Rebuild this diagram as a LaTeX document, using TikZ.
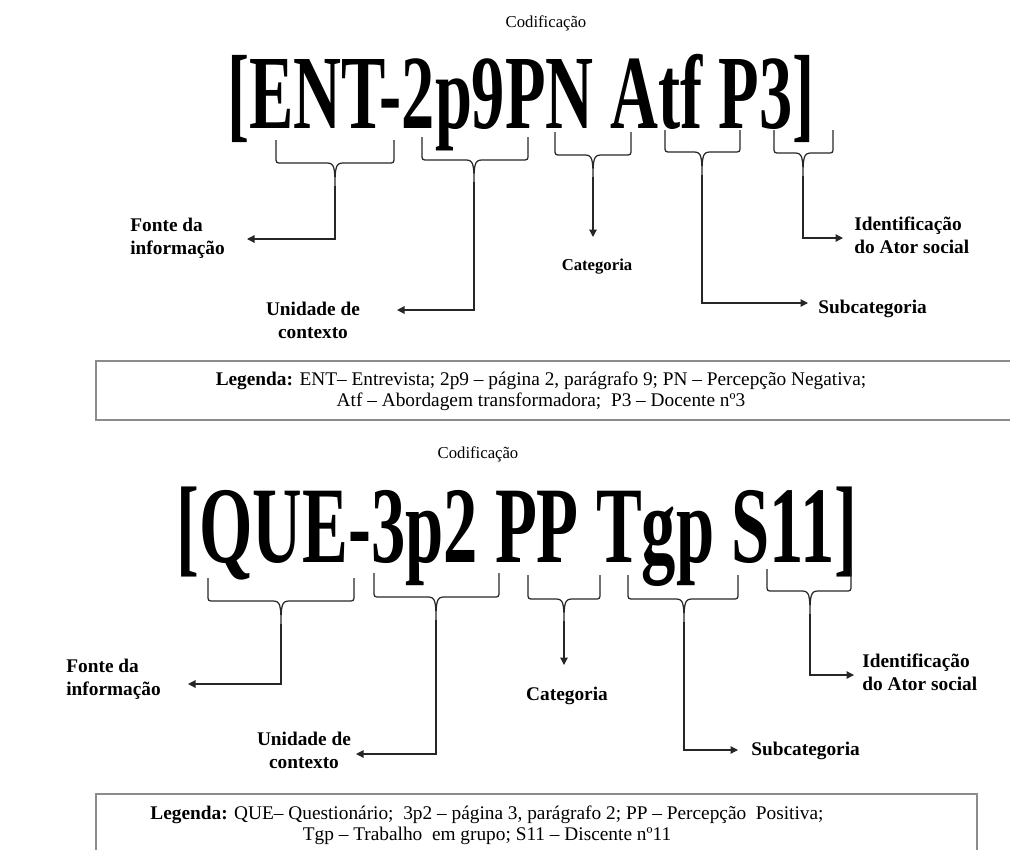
\documentclass[tikz,border=0pt]{standalone}
\usepackage{fontspec}
\usepackage{graphicx}
\setmainfont{Liberation Serif}
\usetikzlibrary{arrows.meta,positioning}

\begin{document}
\begin{tikzpicture}[x=0.02cm,y=-0.02cm,
  brace/.style={draw=black!85,line width=0.7pt},
  arr/.style={draw=black!85,line width=0.7pt,-{Triangle[length=1.5mm,width=1.5mm]}},
  lbl/.style={font=\fontsize{11}{13}\selectfont\bfseries,inner sep=0pt},
  small/.style={font=\fontsize{9.5}{11}\selectfont,inner sep=0pt},
  code/.style={inner sep=0pt,anchor=base},
  legbox/.style={draw=black!45,line width=0.9pt},
  legtext/.style={font=\fontsize{11}{11.5}\selectfont,align=center,inner sep=0pt,anchor=north}]
\useasboundingbox (0,0) rectangle (1010,849);
\def\cbrace#1#2#3#4#5#6#7{%
  \draw[brace] (#1,#4) -- (#1,{#5-6}) .. controls (#1,#5) .. ({#1+6},#5) -- ({#2-8},#5)
    .. controls ({#2-1},#5) and (#2,{#5+4}) .. (#2,#6)
    .. controls (#2,{#5+4}) and ({#2+1},#5) .. ({#2+8},#5) -- ({#3-6},#5)
    .. controls (#3,#5) .. (#3,{#5-6}) -- (#3,#4);
  \coordinate (#7) at (#2,#6);}

\node[small,anchor=base] (codA) at (546,27) {Codificação};
\node[code,font=\fontsize{60}{60}\selectfont\bfseries] (textA) at (521,128) {\scalebox{0.63}[1]{[ENT-2p9PN Atf P3]}};

\cbrace{276}{335}{394}{140}{163}{186}{tA1}
\cbrace{422}{474}{528}{137}{160}{182}{tA2}
\cbrace{555}{593}{631}{132}{155}{177}{tA3}
\cbrace{665}{702}{740}{130}{152}{175}{tA4}
\cbrace{774}{803}{833}{130}{153}{176}{tA5}

\node[lbl,align=left,anchor=north west] (fonteA) at (130,218) {Fonte da\\informação};
\node[lbl,align=center,anchor=north] (unidA) at (313,302) {Unidade de\\contexto};
\node[lbl,font=\fontsize{9.5}{11}\selectfont\bfseries,anchor=base] (catA) at (597,270) {Categoria};
\node[lbl,anchor=base west] (subA) at (818,313) {Subcategoria};
\node[lbl,align=left,anchor=north west] (identA) at (854,217) {Identificação\\do Ator social};

\coordinate (eA1) at (247,239);
\coordinate (eA2) at (397,310);
\coordinate (eA3) at (593,237);
\coordinate (eA4) at (808,303);
\coordinate (eA5) at (843,238);
\draw[arr] (tA1) |- (eA1);
\draw[arr] (tA2) |- (eA2);
\draw[arr] (tA3) -- (eA3);
\draw[arr] (tA4) |- (eA4);
\draw[arr] (tA5) |- (eA5);

\draw[legbox] (96,361) rectangle (1015,420);
\node[legtext] (legA) at (541,372) {\textbf{Legenda:} ENT– Entrevista; 2p9 – página 2, parágrafo 9; PN – Percepção Negativa;\\Atf – Abordagem transformadora;\ \ P3 – Docente nº3};

\node[small,anchor=base] (codB) at (478,458) {Codificação};
\node[code,font=\fontsize{62}{62}\selectfont\bfseries] (textB) at (517,562) {\scalebox{0.63}[1]{[QUE-3p2 PP Tgp S11]}};

\cbrace{208}{281}{354}{578}{601}{624}{tB1}
\cbrace{374}{436}{499}{573}{597}{620}{tB2}
\cbrace{528}{564}{600}{575}{599}{621}{tB3}
\cbrace{628}{684}{738}{575}{599}{622}{tB4}
\cbrace{767}{810}{851}{569}{591}{614}{tB5}

\node[lbl,align=left,anchor=north west] (fonteB) at (66,659) {Fonte da\\informação};
\node[lbl,align=center,anchor=north] (unidB) at (304,732) {Unidade de\\contexto};
\node[lbl,anchor=base] (catB) at (567,700) {Categoria};
\node[lbl,anchor=base west] (subB) at (751,755) {Subcategoria};
\node[lbl,align=left,anchor=north west] (identB) at (862,654) {Identificação\\do Ator social};

\coordinate (eB1) at (188,684);
\coordinate (eB2) at (356,754);
\coordinate (eB3) at (564,665);
\coordinate (eB4) at (738,750);
\coordinate (eB5) at (854,675);
\draw[arr] (tB1) |- (eB1);
\draw[arr] (tB2) |- (eB2);
\draw[arr] (tB3) -- (eB3);
\draw[arr] (tB4) |- (eB4);
\draw[arr] (tB5) |- (eB5);

\draw[legbox] (96,794) rectangle (977,870);
\node[legtext] (legB) at (487,806) {\textbf{Legenda:} QUE– Questionário;\ \ 3p2 – página 3, parágrafo 2; PP – Percepção\ \ Positiva;\\Tgp – Trabalho\ \ em grupo; S11 – Discente nº11};
\end{tikzpicture}
\end{document}
